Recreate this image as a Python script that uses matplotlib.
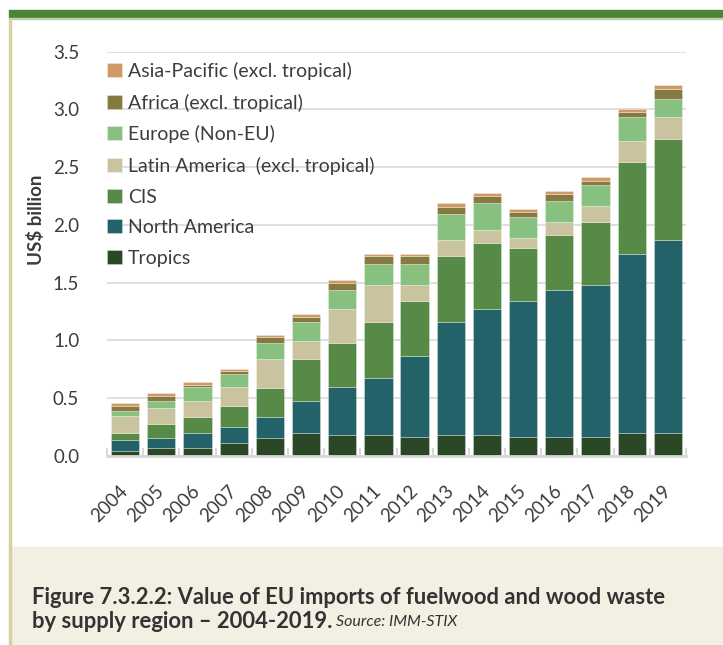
import matplotlib
matplotlib.use("Agg")
import matplotlib.pyplot as plt
import matplotlib.transforms as mtransforms
from matplotlib.patches import Rectangle
import numpy as np

years = [str(y) for y in range(2004, 2020)]

tropics = [0.043, 0.070, 0.070, 0.113, 0.157, 0.203, 0.186, 0.186,
           0.162, 0.186, 0.186, 0.162, 0.162, 0.162, 0.203, 0.203]
north_america = [0.094, 0.087, 0.133, 0.139, 0.183, 0.275, 0.409, 0.493,
                 0.701, 0.974, 1.087, 1.180, 1.272, 1.319, 1.548, 1.663]
cis = [0.066, 0.116, 0.136, 0.180, 0.252, 0.362, 0.380, 0.481,
       0.475, 0.568, 0.571, 0.455, 0.475, 0.542, 0.797, 0.881]
latin_america = [0.142, 0.139, 0.139, 0.162, 0.249, 0.159, 0.299, 0.322,
                 0.145, 0.139, 0.113, 0.093, 0.113, 0.139, 0.183, 0.186]
europe = [0.044, 0.067, 0.119, 0.113, 0.139, 0.162, 0.159, 0.177,
          0.180, 0.226, 0.229, 0.180, 0.183, 0.183, 0.206, 0.159]
africa = [0.046, 0.043, 0.020, 0.026, 0.046, 0.041, 0.067, 0.070,
          0.067, 0.064, 0.067, 0.043, 0.064, 0.038, 0.041, 0.087]
asia_pacific = [0.021, 0.020, 0.020, 0.020, 0.020, 0.029, 0.026, 0.023,
                0.020, 0.032, 0.023, 0.023, 0.029, 0.029, 0.023, 0.029]

series = [
    ("Tropics", tropics, "#2b4826"),
    ("North America", north_america, "#24626a"),
    ("CIS", cis, "#578a47"),
    ("Latin America  (excl. tropical)", latin_america, "#c9c49f"),
    ("Europe (Non-EU)", europe, "#88c07f"),
    ("Africa (excl. tropical)", africa, "#857b41"),
    ("Asia-Pacific (excl. tropical)", asia_pacific, "#cf9a66"),
]

text_col = "#403b38"
plt.rcParams['font.family'] = ['Lato', 'DejaVu Sans']

fig = plt.figure(figsize=(7.23, 6.45), dpi=100)

# frame decorations: green band, left rule, caption panel
fig.patches.append(Rectangle((9 / 723, 1 - 17.7 / 645), 1, 7.7 / 645,
                             transform=fig.transFigure, color="#4d8537", zorder=0))
fig.patches.append(Rectangle((9 / 723, 1 - 18.7 / 645), 1, 1 / 645,
                             transform=fig.transFigure, color="#b5d3a8", zorder=0))
fig.patches.append(Rectangle((10 / 723, 0), 1, 98 / 645,
                             transform=fig.transFigure, color="#f3efe3", zorder=0))
fig.patches.append(Rectangle((9 / 723, 0), 1.5 / 723, 1 - 18.7 / 645,
                             transform=fig.transFigure, color="#d8d09c", zorder=0))

ax = fig.add_axes([107 / 723, 189 / 645, 579 / 723, 404.3 / 645])

x = np.arange(len(years))
bottom = np.zeros(len(years))
handles = []
for name, vals, col in series:
    h = ax.bar(x, vals, 0.78, bottom=bottom, color=col, label=name,
               edgecolor=(1, 1, 1, 0.35), linewidth=0.6, zorder=3)
    handles.append(h)
    bottom += np.array(vals)

ax.set_xlim(-0.5, len(years) - 0.5)
ax.set_ylim(0, 3.5)
ax.set_yticks(np.arange(0, 3.51, 0.5))
ax.set_yticklabels([f"{v:.1f}" for v in np.arange(0, 3.51, 0.5)])
ax.set_xticks(x)
ax.set_xticklabels(years, rotation=45, ha="right", va="center",
                   rotation_mode="anchor")
shift = mtransforms.ScaledTranslation(3 / 100, 0, fig.dpi_scale_trans)
for lab in ax.get_xticklabels():
    lab.set_transform(lab.get_transform() + shift)
ax.set_xticks(np.arange(-0.5, len(years)), minor=True)
ax.tick_params(axis="x", which="major", length=0, pad=23, labelsize=13.5,
               labelcolor=text_col)
ax.tick_params(axis="x", which="minor", direction="in", length=6,
               width=1.5, color="#d9d9d9")
ax.tick_params(axis="y", length=0, pad=20, labelsize=13.5, labelcolor=text_col)
ax.grid(axis="y", color="#dcdcdc", linewidth=1.3, zorder=0)
ax.set_axisbelow(True)
for s in ["top", "right", "left"]:
    ax.spines[s].set_visible(False)
ax.spines["bottom"].set_color("#d9d9d9")
ax.spines["bottom"].set_linewidth(2)
ax.spines["bottom"].set_zorder(4)

ax.set_ylabel("US$ billion", fontsize=13.5, fontweight="bold", color=text_col)
ax.yaxis.set_label_coords(-0.107, 0.583)

ax.legend(handles[::-1], [s[0] for s in series][::-1], loc="upper left",
          bbox_to_anchor=(0.0, 0.975), frameon=False, fontsize=14,
          labelcolor=text_col, handlelength=0.78, handleheight=0.72,
          handletextpad=0.3, labelspacing=0.7, borderpad=0, borderaxespad=0)

# caption
fig.text(32 / 723, 1 - 597 / 645, "Figure 7.3.2.2: Value of EU imports of fuelwood and wood waste",
         fontsize=15.8, fontweight="bold", color="#333333", va="center")
t2 = fig.text(32 / 723, 1 - 622 / 645, "by supply region \u2013 2004-2019.",
              fontsize=15.8, fontweight="bold", color="#333333", va="center")
renderer = fig.canvas.get_renderer()
bb = t2.get_window_extent(renderer)
fig.text(bb.x1 / 723 + 4 / 723, 1 - 622 / 645, "Source: IMM-STIX", fontsize=11.5,
         fontstyle="italic", color="#333333", va="center")

fig.savefig("out.png", dpi=100)
